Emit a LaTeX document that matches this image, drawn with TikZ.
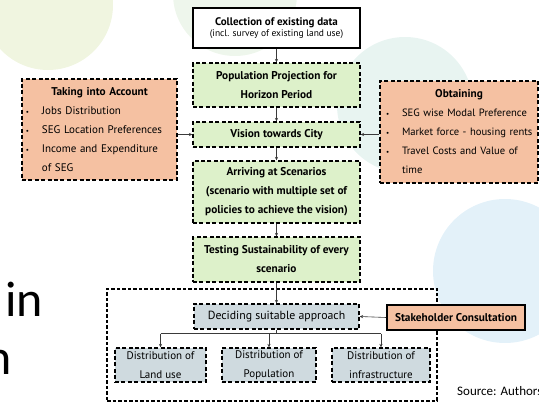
\documentclass[tikz,border=0pt]{standalone}
\usepackage{fontspec}
\setmainfont{PT Sans}
\newfontfamily\slidefont{Carlito}
\usetikzlibrary{arrows, arrows.meta}

\definecolor{boxgreen}{HTML}{DDF1CA}
\definecolor{boxorange}{HTML}{F5C1A2}
\definecolor{boxgrey}{HTML}{CFDADF}
\definecolor{bgyellow}{HTML}{F0F5E0}
\definecolor{bggreen}{HTML}{EEF6EC}
\definecolor{bgmint}{HTML}{E8F4F1}
\definecolor{bgblue}{HTML}{E3F1F9}
\definecolor{linkgrey}{HTML}{3A3A3A}

\tikzset{
	dashbox/.style={draw=black, line width=1.4pt, dash pattern=on 4pt off 2.4pt, rectangle, inner sep=0pt, align=center, font=\fontsize{11}{19}\selectfont},
	greenbox/.style={dashbox, fill=boxgreen, minimum width=167pt, font=\bfseries\fontsize{11.3}{19}\selectfont},
	greybox/.style={dashbox, fill=boxgrey, minimum height=34pt},
	listbox/.style={dashbox, fill=boxorange, align=left},
	solidbox/.style={draw=black, line width=1.6pt, rectangle, inner sep=0pt, align=center},
	link/.style={-{Stealth[length=3.4pt,width=3.2pt]}, line width=0.6pt, draw=linkgrey}
}
\newcommand{\bul}[1]{\mbox{\makebox[16pt][l]{\fontsize{7}{7}\selectfont\textbullet}#1}}

\begin{document}
\begin{tikzpicture}[x=1pt, y=-1pt]
	\useasboundingbox (0,0) rectangle (539,403);
	\clip (0,0) rectangle (539,403);
	
	%background
	\fill[bgyellow] (48,5) circle[radius=65pt];
	\fill[bggreen] (235,-6) circle[radius=62pt];
	\fill[bgmint] (405,105) circle[radius=68pt];
	\fill[bgblue] (505,271) circle[radius=72pt];
	\node[anchor=base west, inner sep=0pt, font=\slidefont\fontsize{50}{60}\selectfont] (word) at (5,317) {in};
	\node[anchor=base east, inner sep=0pt, font=\slidefont\fontsize{50}{60}\selectfont] (frag) at (12,375) {n};
	\node[anchor=base west, inner sep=0pt, font=\slidefont\fontsize{13}{15}\selectfont] (src) at (457,396) {Source: Authors};
	
	%main column
	\node[solidbox, fill=white, minimum width=167pt, minimum height=40pt] (coll) at (276.5,28)
		{{\bfseries\fontsize{11}{17}\selectfont Collection of existing data}\\[-1pt]
		 {\fontsize{9.5}{10}\selectfont (incl. survey of existing land use)}};
	\node[greenbox, minimum height=44pt] (pop) at (276.5,85) {Population Projection for\\Horizon Period};
	\node[greenbox, minimum height=25pt] (vis) at (276.5,134.5) {Vision towards City};
	\node[greenbox, minimum height=62pt] (arr) at (276.5,192)
		{Arriving at Scenarios\\(scenario with multiple set of\\policies to achieve the vision)};
	\node[greenbox, minimum height=45pt] (test) at (276.5,259.5) {Testing Sustainability of every\\scenario};
	
	%side lists
	\node[listbox, minimum width=155pt, minimum height=101pt, text width=147pt] (take) at (99.5,129.5)
		{{\centering\bfseries\fontsize{11.3}{19}\selectfont Taking into Account\par}
		 \bul{Jobs Distribution}\\
		 \bul{SEG Location Preferences}\\
		 \bul{Income and Expenditure}\\
		 \hspace*{16pt}of SEG};
	\node[listbox, minimum width=158pt, minimum height=102pt, text width=146pt, font=\fontsize{10.6}{19}\selectfont] (obt) at (459,132)
		{{\centering\bfseries\fontsize{11.3}{19}\selectfont Obtaining\par}
		 \bul{SEG wise Modal Preference}\\
		 \bul{Market force - housing rents}\\
		 \bul{Travel Costs and Value of}\\
		 \hspace*{16pt}time};
	
	%lower group
	\node[draw=black, line width=1.1pt, dash pattern=on 3.5pt off 2pt, minimum width=330pt, minimum height=112pt, inner sep=0pt] (grp) at (272,345) {};
	\node[greybox, minimum width=165pt, minimum height=25pt, font=\fontsize{11.8}{19}\selectfont] (dec) at (276.5,316.5) {Deciding suitable approach};
	\node[greybox, minimum width=91pt] (dland) at (160.5,365) {Distribution of\\Land use};
	\node[greybox, minimum width=94pt] (dpop) at (269,365) {Distribution of\\Population};
	\node[greybox, minimum width=98pt] (dinf) at (381,365) {Distribution of\\infrastructure};
	\node[solidbox, fill=boxorange, minimum width=138pt, minimum height=25pt, font=\bfseries\fontsize{11.3}{12}\selectfont] (stake) at (456,317.5) {Stakeholder Consultation};
	
	%arrows
	\draw[link] (coll) -- (pop);
	\draw[link] (pop) -- (vis);
	\draw[link] (vis) -- (arr);
	\draw[link] (arr) -- (test);
	\draw[link] (test) -- (dec);
	\draw[link] (take.east |- vis.west) -- (vis.west);
	\draw[link] (obt.west |- vis.east) -- (vis.east);
	\draw[link] (stake.west) -- (dec.east);
	\draw[line width=0.6pt, draw=linkgrey] (dec.south) -- ++(0,4) coordinate (bus);
	\draw[line width=0.6pt, draw=linkgrey] (bus -| dland.north) -- (bus -| dinf.north);
	\draw[link] (bus -| dland.north) -- (dland.north);
	\draw[link] (bus -| dpop.north) -- (dpop.north);
	\draw[link] (bus -| dinf.north) -- (dinf.north);
\end{tikzpicture}
\end{document}
